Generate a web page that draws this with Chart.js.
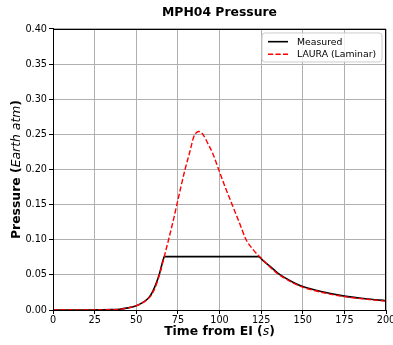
<!DOCTYPE html>
<html>
<head>
<meta charset="utf-8">
<script src="https://cdn.jsdelivr.net/npm/chart.js@4/dist/chart.umd.min.js"></script>
<style>
  html, body { margin: 0; padding: 0; background: #fff; }
  #wrap { width: 393px; height: 345px; }
</style>
</head>
<body>
<div id="wrap"><canvas id="c" width="393" height="345"></canvas></div>
<script>
// ---- data ----
const chartTitle = 'MPH04 Pressure';
const seriesNames = ['Measured', 'LAURA (Laminar)'];
const measuredTime = [0, 10, 20, 30, 35, 40, 45, 50, 53, 56, 58, 60, 62, 64, 66, 66.9, 123.5, 126, 130, 135, 140, 145, 150, 162.5, 175, 187.5, 200];
const measuredPressure = [0, 0, 0, 0.0002, 0.0005, 0.001, 0.003, 0.006, 0.0095, 0.014, 0.019, 0.027, 0.038, 0.052, 0.070, 0.076, 0.076, 0.0705, 0.063, 0.0525, 0.045, 0.0385, 0.0335, 0.0255, 0.0197, 0.016, 0.0132];
const lauraTime = [0, 10, 20, 30, 35, 40, 45, 50, 55, 58, 60, 62, 64.4, 66.6, 69.4, 72, 74.4, 76.8, 79.3, 82, 84.6, 86.2, 87.6, 89, 90.6, 93, 96, 99.5, 103.4, 107.6, 111.8, 116, 120, 124, 127, 130, 135, 140, 145, 150, 162.5, 175, 187.5, 200];
const lauraPressure = [0, 0, 0, 0.0002, 0.0005, 0.001, 0.003, 0.006, 0.012, 0.018, 0.025, 0.036, 0.054, 0.074, 0.100, 0.125, 0.150, 0.175, 0.200, 0.2235, 0.247, 0.2525, 0.254, 0.2525, 0.248, 0.237, 0.2225, 0.200, 0.175, 0.150, 0.125, 0.100, 0.0865, 0.076, 0.069, 0.062, 0.0515, 0.044, 0.0375, 0.0325, 0.0245, 0.019, 0.0155, 0.0127];
const xTicks = [0, 25, 50, 75, 100, 125, 150, 175, 200];
const yTicks = [0, 0.05, 0.10, 0.15, 0.20, 0.25, 0.30, 0.35, 0.40];
const xTitleParts = [['Time from EI (', 'bold'], ['s', 'italic'], [')', 'bold']];
const yTitleParts = [['Pressure (', 'bold'], ['Earth atm', 'italic'], [')', 'bold']];

const FONT = "'DejaVu Sans', 'Liberation Sans', sans-serif";

function toPoints(xs, ys) { return xs.map((x, i) => ({ x: x, y: ys[i] })); }

function partFont(style, size) {
  return style === 'bold' ? `bold ${size}px ${FONT}` : `italic ${size}px ${FONT}`;
}

function drawParts(ctx, parts, size) {
  let total = 0;
  parts.forEach(p => { ctx.font = partFont(p[1], size); total += ctx.measureText(p[0]).width; });
  let x = -total / 2;
  parts.forEach(p => {
    ctx.font = partFont(p[1], size);
    ctx.fillText(p[0], x, 0);
    x += ctx.measureText(p[0]).width;
  });
}

const framePlugin = {
  id: 'frameAndLegend',
  afterDatasetsDraw(chart) {
    const { ctx, chartArea: a } = chart;
    ctx.save();
    ctx.strokeStyle = '#000';
    ctx.lineWidth = 1;
    ctx.strokeRect(Math.round(a.left) + 0.5, Math.round(a.top) + 0.5, Math.round(a.right - a.left) - 1, Math.round(a.bottom - a.top));
    // legend
    const bx = a.right - 124, by = a.top + 4, bw = 120, bh = 29, r = 3;
    ctx.beginPath();
    ctx.moveTo(bx + r, by);
    ctx.arcTo(bx + bw, by, bx + bw, by + bh, r);
    ctx.arcTo(bx + bw, by + bh, bx, by + bh, r);
    ctx.arcTo(bx, by + bh, bx, by, r);
    ctx.arcTo(bx, by, bx + bw, by, r);
    ctx.closePath();
    ctx.fillStyle = 'rgba(255,255,255,0.8)';
    ctx.fill();
    ctx.strokeStyle = '#cccccc';
    ctx.lineWidth = 1;
    ctx.stroke();
    chart.data.datasets.forEach((ds, i) => {
      const y = by + 8.7 + i * 12.6;
      ctx.beginPath();
      ctx.setLineDash(ds.borderDash || []);
      ctx.strokeStyle = ds.borderColor;
      ctx.lineWidth = ds.borderWidth;
      ctx.moveTo(bx + 6, y);
      ctx.lineTo(bx + 26, y);
      ctx.stroke();
      ctx.setLineDash([]);
      ctx.fillStyle = '#000';
      ctx.font = `9.3px ${FONT}`;
      ctx.textBaseline = 'middle';
      ctx.textAlign = 'left';
      ctx.fillText(ds.label, bx + 35, y + 0.5);
    });
    ctx.restore();
  },
  afterDraw(chart) {
    const { ctx, chartArea: a } = chart;
    ctx.save();
    ctx.fillStyle = '#000';
    ctx.textBaseline = 'middle';
    ctx.textAlign = 'left';
    ctx.translate((a.left + a.right) / 2, 332);
    drawParts(ctx, xTitleParts, 12.4);
    ctx.restore();
    ctx.save();
    ctx.fillStyle = '#000';
    ctx.textBaseline = 'middle';
    ctx.textAlign = 'left';
    ctx.translate(17, (a.top + a.bottom) / 2);
    ctx.rotate(-Math.PI / 2);
    drawParts(ctx, yTitleParts, 12.4);
    ctx.restore();
  }
};

new Chart(document.getElementById('c'), {
  type: 'line',
  data: {
    datasets: [
      {
        label: seriesNames[0],
        data: toPoints(measuredTime, measuredPressure),
        borderColor: '#000000',
        borderWidth: 1.6,
        pointRadius: 0,
        cubicInterpolationMode: 'monotone',
        fill: false,
        order: 2
      },
      {
        label: seriesNames[1],
        data: toPoints(lauraTime, lauraPressure),
        borderColor: '#ff0000',
        borderWidth: 1.4,
        borderDash: [5.2, 2.3],
        pointRadius: 0,
        cubicInterpolationMode: 'monotone',
        fill: false,
        order: 1
      }
    ]
  },
  options: {
    responsive: false,
    animation: false,
    layout: { padding: { left: 0, right: 7, top: 0, bottom: 0 } },
    plugins: {
      legend: { display: false },
      tooltip: { enabled: false },
      title: {
        display: true,
        text: chartTitle,
        fullSize: false,
        color: '#000',
        font: { family: FONT, size: 12.4, weight: 'bold' },
        padding: { top: 5.5, bottom: 8.6 }
      }
    },
    scales: {
      x: {
        type: 'linear',
        min: xTicks[0],
        max: xTicks[xTicks.length - 1],
        afterBuildTicks(scale) { scale.ticks = xTicks.map(v => ({ value: v })); },
        afterFit(scale) { scale.height = 35; scale.paddingLeft = 0; scale.paddingRight = 0; },
        ticks: {
          color: '#000',
          font: { family: FONT, size: 9.7 },
          padding: 1,
          maxRotation: 0,
          autoSkip: false,
          callback: v => String(v)
        },
        grid: { color: '#b0b0b0', lineWidth: 1, tickLength: 4, tickColor: '#000', tickWidth: 1 },
        border: { color: '#000', width: 1 }
      },
      y: {
        type: 'linear',
        min: yTicks[0],
        max: yTicks[yTicks.length - 1],
        afterBuildTicks(scale) { scale.ticks = yTicks.map(v => ({ value: v })); },
        afterFit(scale) { scale.width = 53; scale.paddingTop = 0; scale.paddingBottom = 0; },
        ticks: {
          color: '#000',
          font: { family: FONT, size: 9.7 },
          padding: 2,
          autoSkip: false,
          callback: v => Number(v).toFixed(2)
        },
        grid: { color: '#b0b0b0', lineWidth: 1, tickLength: 4, tickColor: '#000', tickWidth: 1 },
        border: { color: '#000', width: 1 }
      }
    }
  },
  plugins: [framePlugin]
});
</script>
</body>
</html>
